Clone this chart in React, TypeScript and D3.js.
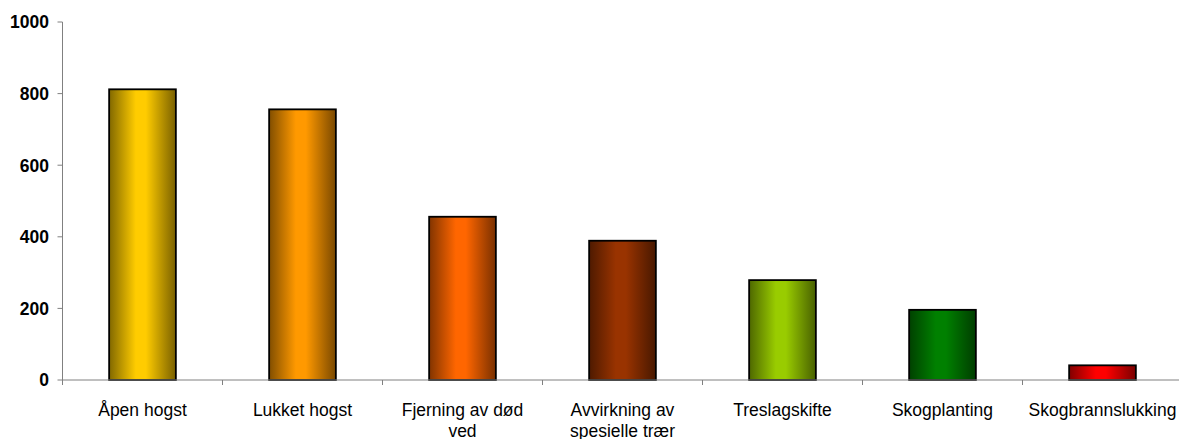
import React from "react";
import * as d3 from "d3";

const categories = [
  ["Åpen hogst"],
  ["Lukket hogst"],
  ["Fjerning av død", "ved"],
  ["Avvirkning av", "spesielle trær"],
  ["Treslagskifte"],
  ["Skogplanting"],
  ["Skogbrannslukking"],
];
const values = [812, 756, 456, 389, 279, 196, 41];
const colors = ["#FFCC00", "#FF9900", "#FF6600", "#993300", "#99CC00", "#008000", "#FF0000"];
const yTicks = [0, 200, 400, 600, 800, 1000];

const W = 1179;
const H = 439;
const x0 = 62.5;
const x1 = 1182.5;
const yTop = 22;
const yBottom = 380;

export default function App() {
  const x = d3
    .scaleBand<number>()
    .domain(d3.range(categories.length))
    .range([x0, x1])
    .padding(0);
  const y = d3.scaleLinear().domain([0, 1000]).range([yBottom, yTop]);
  const step = x.step();
  const barW = step * 0.417;
  const font = "'Liberation Sans', Arial, sans-serif";

  return (
    <div style={{ position: "absolute", left: 0, top: 0 }}>
      <svg width={W} height={H} style={{ display: "block" }}>
        <defs>
          {colors.map((c, i) => {
            const base = d3.color(c)!;
            const dark1 = d3.rgb(base).darker(1.9).formatHex();
            const dark2 = d3.rgb(base).darker(2.1).formatHex();
            return (
              <linearGradient key={i} id={`g${i}`} x1="0" x2="1" y1="0" y2="0">
                <stop offset="0%" stopColor={dark1} />
                <stop offset="40%" stopColor={c} />
                <stop offset="55%" stopColor={c} />
                <stop offset="100%" stopColor={dark2} />
              </linearGradient>
            );
          })}
        </defs>
        <rect width={W} height={H} fill="#fff" />
        {/* bars */}
        {values.map((v, i) => {
          const cx = (x(i) as number) + step / 2;
          return (
            <rect
              key={i}
              x={cx - barW / 2}
              y={y(v)}
              width={barW}
              height={y(0) - y(v)}
              fill={`url(#g${i})`}
              stroke="#000"
              strokeWidth={1.8}
            />
          );
        })}
        {/* y axis */}
        <line x1={x0} x2={x0} y1={yTop} y2={yBottom} stroke="#808080" strokeWidth={1} />
        {yTicks.map((t) => (
          <g key={t}>
            <line x1={x0 - 5} x2={x0} y1={y(t)} y2={y(t)} stroke="#808080" strokeWidth={1} />
            <text
              x={49}
              y={y(t)}
              dy="0.36em"
              textAnchor="end"
              fontFamily={font}
              fontWeight="bold"
              fontSize={17.5}
              fill="#000"
            >
              {t}
            </text>
          </g>
        ))}
        {/* x axis */}
        <line x1={x0} x2={x1} y1={yBottom} y2={yBottom} stroke="#808080" strokeWidth={1} />
        {d3.range(categories.length + 1).map((i) => (
          <line
            key={i}
            x1={x0 + i * step}
            x2={x0 + i * step}
            y1={yBottom}
            y2={yBottom + 5}
            stroke="#808080"
            strokeWidth={1}
          />
        ))}
        {categories.map((lines, i) => {
          const cx = (x(i) as number) + step / 2;
          return (
            <text key={i} textAnchor="middle" fontFamily={font} fontSize={17.5} fill="#000">
              {lines.map((l, j) => (
                <tspan key={j} x={cx} y={416 + j * 20.5}>
                  {l}
                </tspan>
              ))}
            </text>
          );
        })}
      </svg>
    </div>
  );
}
